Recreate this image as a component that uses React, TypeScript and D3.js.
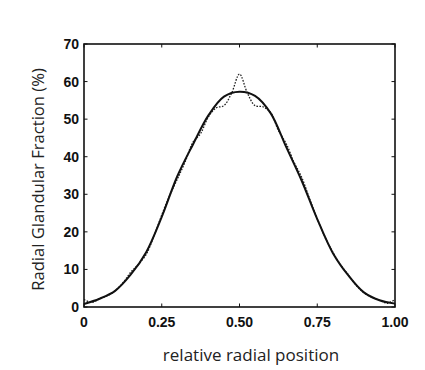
import React from "react";
import * as d3 from "d3";

const solidX = [0, 0.05, 0.1, 0.15, 0.2, 0.25, 0.3, 0.35, 0.4, 0.45, 0.5, 0.55, 0.6, 0.65, 0.7, 0.75, 0.8, 0.85, 0.9, 0.95, 1.0];
const solidY = [0.8, 2.2, 4.3, 8.6, 14.6, 24.0, 34.8, 43.2, 51.0, 56.0, 57.3, 56.2, 51.6, 42.6, 33.6, 23.4, 14.4, 8.4, 3.9, 1.8, 0.9];

const dottedX = [0, 0.025, 0.05, 0.075, 0.1, 0.125, 0.15, 0.175, 0.2, 0.225, 0.25, 0.275, 0.3, 0.325, 0.35, 0.375, 0.4, 0.425, 0.45, 0.475, 0.5, 0.525, 0.55, 0.575, 0.6, 0.625, 0.65, 0.675, 0.7, 0.725, 0.75, 0.775, 0.8, 0.825, 0.85, 0.875, 0.9, 0.925, 0.95, 0.975, 1.0];
const dottedY = [2.0, 1.2, 2.2, 3.0, 4.3, 6.4, 9.2, 11.4, 14.0, 18.9, 24.5, 29.6, 34.0, 38.6, 43.8, 46.2, 50.6, 53.0, 53.6, 57.0, 62.0, 57.0, 53.6, 53.3, 51.8, 47.0, 43.5, 38.6, 34.5, 28.9, 23.5, 18.6, 14.6, 11.2, 8.6, 5.8, 3.8, 2.6, 1.8, 1.0, 2.0];

const xTicks = [0, 0.25, 0.5, 0.75, 1.0];
const xTickLabels = ["0", "0.25", "0.50", "0.75", "1.00"];
const yTicks = [0, 10, 20, 30, 40, 50, 60, 70];

export default function App() {
  const W = 425, H = 370;
  const left = 84, right = 395, top = 44, bottom = 307;
  const x = d3.scaleLinear().domain([0, 1]).range([left, right]);
  const y = d3.scaleLinear().domain([0, 70]).range([bottom, top]);
  const mk = d3
    .line<[number, number]>()
    .x((d) => x(d[0]))
    .y((d) => y(d[1]))
    .curve(d3.curveCatmullRom);
  const solidPath = mk(solidX.map((v, i) => [v, solidY[i]] as [number, number]));
  const dottedPath = mk(dottedX.map((v, i) => [v, dottedY[i]] as [number, number]));
  const tl = 3.5;
  const tickFont = "'Liberation Sans', Arial, sans-serif";
  const titleFont = "'Open Sans', sans-serif";
  return (
    <svg
      width={W}
      height={H}
      style={{ position: "fixed", left: 0, top: 0, background: "#fff" }}
    >
      <rect x={0} y={0} width={W} height={H} fill="#fff" />
      {yTicks.map((t) => (
        <g key={"y" + t}>
          <line x1={left} x2={left + tl} y1={y(t)} y2={y(t)} stroke="#111" strokeWidth={1} />
          <line x1={right} x2={right - tl} y1={y(t)} y2={y(t)} stroke="#111" strokeWidth={1} />
          <text
            x={left - 5}
            y={y(t)}
            dy="0.36em"
            textAnchor="end"
            fontFamily={tickFont}
            fontWeight="bold"
            fontSize={14}
            fill="#111"
          >
            {t}
          </text>
        </g>
      ))}
      {xTicks.map((t, i) => (
        <g key={"x" + t}>
          <line x1={x(t)} x2={x(t)} y1={bottom} y2={bottom - tl} stroke="#111" strokeWidth={1} />
          <line x1={x(t)} x2={x(t)} y1={top} y2={top + tl} stroke="#111" strokeWidth={1} />
          <text
            x={x(t)}
            y={bottom + 15}
            dy="0.36em"
            textAnchor="middle"
            fontFamily={tickFont}
            fontWeight="bold"
            fontSize={14}
            fill="#111"
          >
            {xTickLabels[i]}
          </text>
        </g>
      ))}
      <path d={dottedPath ?? ""} fill="none" stroke="#222" strokeWidth={1.3} strokeDasharray="1.6 1.4" />
      <path d={solidPath ?? ""} fill="none" stroke="#111" strokeWidth={2} />
      <rect
        x={left}
        y={top}
        width={right - left}
        height={bottom - top}
        fill="none"
        stroke="#111"
        strokeWidth={1.6}
      />
      <text
        x={251}
        y={361}
        textAnchor="middle"
        fontFamily={titleFont}
        fontSize={17}
        fill="#222"
      >
        relative radial position
      </text>
      <text
        transform="translate(44, 179.5) rotate(-90)"
        textAnchor="middle"
        fontFamily={titleFont}
        fontSize={16.6}
        fill="#222"
      >
        Radial Glandular Fraction (%)
      </text>
    </svg>
  );
}
